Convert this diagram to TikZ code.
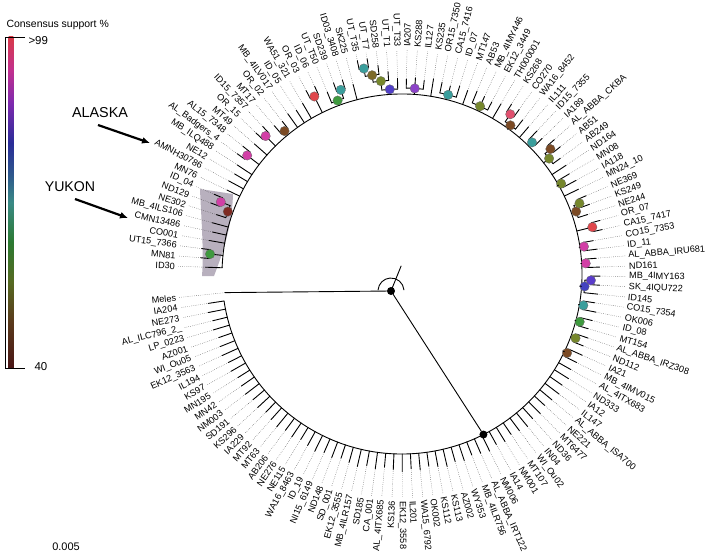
\documentclass[tikz,border=0pt]{standalone}
\usepackage{fontspec}
\setmainfont{Liberation Sans}
\usetikzlibrary{arrows.meta}

\definecolor{cred}{HTML}{E0474C}
\definecolor{cmag}{HTML}{D23FA6}
\definecolor{cpink}{HTML}{E0506E}
\definecolor{cviolet}{HTML}{8C43C8}
\definecolor{cindigo}{HTML}{5140C8}
\definecolor{cblue}{HTML}{4343C0}
\definecolor{cpurpb}{HTML}{5A3CCB}
\definecolor{cteal}{HTML}{3A9E9C}
\definecolor{cgreen}{HTML}{3F9A3F}
\definecolor{colive}{HTML}{76872C}
\definecolor{colbrown}{HTML}{7C6A2A}
\definecolor{cbrown}{HTML}{7B4A24}
\definecolor{cdred}{HTML}{7E2A22}
\definecolor{yukongray}{RGB}{184,176,190}
% colour bar stops, bottom (40) to top (>99)
\definecolor{bar0}{HTML}{4A1616}
\definecolor{bar1}{HTML}{5A3A1C}
\definecolor{bar2}{HTML}{566A22}
\definecolor{bar3}{HTML}{2C7A32}
\definecolor{bar4}{HTML}{3A8A86}
\definecolor{bar5}{HTML}{2E5A8C}
\definecolor{bar6}{HTML}{2A2C98}
\definecolor{bar7}{HTML}{7E2AAE}
\definecolor{bar8}{HTML}{C2308E}
\definecolor{bar9}{HTML}{D83A48}
\pgfdeclareverticalshading{support}{20bp}{color(0bp)=(bar0); color(25bp)=(bar0);
  color(32bp)=(bar1); color(38bp)=(bar2); color(44bp)=(bar3); color(50bp)=(bar4);
  color(54bp)=(bar5); color(59bp)=(bar6); color(65bp)=(bar7); color(70bp)=(bar8);
  color(75bp)=(bar9); color(100bp)=(bar9)}

\tikzset{
  branch/.style={line width=0.9pt, line cap=round},
  leader/.style={line width=0.4pt, dash pattern=on 0.5pt off 1.4pt, black!75},
  lab/.style={inner sep=0pt, font=\fontsize{9.2}{10}\selectfont},
  dot/.style={circle, inner sep=0pt, minimum size=9.5pt, draw=black!60, line width=0.3pt},
  bdot/.style={circle, fill=black, inner sep=0pt, minimum size=8pt},
  bigarrow/.style={line width=2.2pt, -{Latex[length=8pt,width=7pt]}},
}

% clade: first/last child position, radius, parent radius, colour, name
\newcommand\clade[6]{%
  \pgfmathsetmacro\cfa{186+2.627*#1}%
  \pgfmathsetmacro\cfb{186+2.627*#2}%
  \pgfmathsetmacro\cfm{(\cfa+\cfb)/2}%
  \draw[branch] (\cfa:#3bp) arc[start angle=\cfa, end angle=\cfb, radius=#3bp];
  \node[dot, fill=#5] (#6) at (\cfm:#3bp) {};
  \draw[branch] (\cfm:#4bp) -- (#6);
}

\begin{document}
\begin{tikzpicture}[x=1bp, y=1bp]
\useasboundingbox (0,0) rectangle (709,-559);

% Yukon clade highlight
\fill[yukongray] (200,-189) -- (233,-194) .. controls (232,-228) and (222,-255) .. (214,-276)
  -- (202,-276) .. controls (204,-250) and (201,-215) .. cycle;

% legend
\node[anchor=west, font=\fontsize{10.5}{12}\selectfont] (legtitle) at (3,-25) {Consensus support \%};
\shade[shading=support] (5,-37) rectangle (17,-368);
\draw[line width=0.9pt] (25,-37) -- (5,-37) -- (5,-368) -- (25,-368);
\node[anchor=west, font=\fontsize{11.5}{12}\selectfont] (hi) at (25,-41) {>99};
\node[anchor=west, font=\fontsize{11.5}{12}\selectfont] (lo) at (31,-367) {40};
\node[font=\fontsize{11}{12}\selectfont] (scale) at (66,-547) {0.005};

% regions
\node[font=\fontsize{14.4}{16}\selectfont] (alaska) at (100,-113) {ALASKA};
\node[font=\fontsize{14.2}{16}\selectfont] (yukon) at (70,-187) {YUKON};
\coordinate (aktail) at (98,-125);
\coordinate (akhead) at (150,-143);
\coordinate (yktail) at (75,-199);
\coordinate (ykhead) at (128,-218);
\draw[bigarrow] (aktail) -- (akhead);
\draw[bigarrow] (yktail) -- (ykhead);

\begin{scope}[shift={(402,-274)}]
% radius where each tip's branch starts (default: backbone)
\foreach \i/\r in {0/178,56/183,57/183,58/185,59/185,60/184,61/184,62/184,63/184,64/183,
  65/189,66/189,67/184,68/184,69/184,70/184,71/196,72/196,73/185,74/191,75/191,77/183,
  78/183,80/187,81/194,82/194,83/185,84/185,86/184,87/193,88/193,90/185,91/185,92/185,
  94/185,95/185,96/185,98/186,99/186,100/186,101/185,102/194,103/201,104/209,105/209,
  107/194,108/194,109/185,110/198,111/198,115/185,116/185,117/194,118/194,120/195,
  121/195,126/195,127/195,128/185,132/193,133/193}
  {\expandafter\xdef\csname tb\i\endcsname{\r}}

% tips, leaders and labels
\foreach \lab [count=\i from 0] in {Meles, IA204, NE273, AL\_ILC796\_2\_, LP\_0223, AZ001,
  WI\_Ou05, EK12\_3563, IL194, KS97, MN195, MN42, NM003, SD191, KS296, IA229, MT92, MT63,
  AB206, NE276, NE115, WA16\_8463, ID\_19, NI15\_6149, ND148, SD\_001, EK12\_3555,
  MB\_4ILR157, SD185, CA\_001, AL\_4ITX685, KS136, EK12\_3558, IL201, WA15\_6792, OK002,
  KS112, KS113, AZ002, WY353, MB\_4ILR756, AL\_ABBA\_IRT122, NM006, IA14, NM001, MT107,
  WI\_Ou02, IN04, ND36, MT6477, NE221, AL\_ABBA\_ISA700, IL147, IA12, ND333, AL\_4ITX683,
  MB\_4IMV015, IA21, ND112, AL\_ABBA\_IRZ308, MT154, ID\_08, OK006, CO15\_7354, ID145,
  SK\_4IQU722, MB\_4IMY163, ND161, AL\_ABBA\_IRU681, ID\_11, CO15\_7353, CA15\_7417, OR\_07,
  NE244, KS249, NE369, MN24\_10, IA118, MN08, ND164, AB249, AB51, AL\_ABBA\_CKBA, IA189,
  ID15\_7355, IL111, WA16\_8452, CO270, KS268, TH000001, EK12\_3449, MB\_4IMY446, AB53,
  MT147, ID\_07, CA15\_7416, OR15\_7350, KS235, IL127, KS288, IA207, UT\_T33, UT\_T1, SD258,
  UT\_T7, UT\_T35, SK225, ID03\_3408, SD239, UT\_T50, ID\_06, OR\_03, WA51\_321, ID\_05,
  MB\_4ILV017, OR\_02, MT17, ID15\_7357, OR\_15, MT49, AL15\_7348, AL\_Badgers\_4, MB\_ILQ488,
  NE12, AMNH30786, MN76, ID\_04, ND129, NE302, MB\_4ILS106, CMN13486, CO001, UT15\_7366,
  MN81, ID30}{
  \pgfmathsetmacro\ang{186+2.627*\i}
  \ifcsname tb\i\endcsname \edef\rb{\csname tb\i\endcsname}\else \def\rb{180}\fi
  \pgfmathsetmacro\rt{max(194+mod(\i*7,5)*0.9,\rb+9)}
  \ifnum\i=0 \def\rt{178}\fi
  \coordinate (tb\i) at (\ang:\rb bp);
  \coordinate (tt\i) at (\ang:\rt bp);
  \ifnum\i>0 \draw[branch] (tb\i) -- (tt\i); \fi
  \draw[leader] (tt\i) -- (\ang:224bp);
  \pgfmathsetmacro\nang{mod(\ang,360)}
  \pgfmathtruncatemacro\isleft{(\nang>90)&&(\nang<270)}
  \ifnum\isleft=1
    \node[lab, anchor=east, rotate=\ang-180] (l\i) at (\ang:227bp) {\lab};
  \else
    \node[lab, anchor=west, rotate=\ang] (l\i) at (\ang:227bp) {\lab};
  \fi
}

% backbone of the ingroup
\draw[branch] (188.627:180bp) arc[start angle=188.627, end angle=538.018, radius=180bp];

% supported clades
\clade{56}{57}{183}{180}{cbrown}{n56}
\clade{58}{59}{185}{180}{colive}{n58}
\clade{60}{61}{184}{180}{cgreen}{n60}
\clade{62}{63}{184}{180}{cteal}{n62}
\clade{64}{65.5}{183}{180}{cblue}{n64}
\clade{65}{66}{189}{183}{cpurpb}{n65}
\clade{67}{68}{184}{180}{cmag}{n67}
\clade{69}{70}{184}{180}{cmag}{n69}
\clade{71}{72}{196}{180}{cred}{n71}
\clade{73}{74.5}{185}{180}{cbrown}{n73}
\clade{74}{75}{191}{185}{colive}{n74}
\clade{77}{78}{183}{180}{colive}{n77}
\clade{80}{81.5}{187}{180}{colive}{n80}
\clade{81}{82}{194}{187}{cbrown}{n81}
\clade{83}{84}{185}{180}{cteal}{n83}
\clade{86}{87.5}{184}{180}{cbrown}{n86}
\clade{87}{88}{193}{184}{cpink}{n87}
\clade{90}{92}{185}{180}{colive}{n90}
\clade{94}{96}{185}{180}{cteal}{n94}
\clade{98}{100}{186}{180}{cviolet}{n98}
\clade{101}{102.875}{185}{180}{cindigo}{n101}
\clade{102}{103.75}{194}{185}{colive}{n102}
\clade{103}{104.5}{201}{194}{colbrown}{n103}
\clade{104}{105}{209}{201}{cteal}{n104}
\clade{107.5}{109}{185}{180}{cgreen}{n109}
\clade{107}{108}{194}{185}{cteal}{n107}
\clade{110}{111}{198}{180}{cred}{n110}
\clade{115}{116}{185}{180}{cbrown}{n115}
\clade{117}{118}{194}{180}{cmag}{n117}
\clade{120}{121}{195}{180}{cmag}{n120}
\clade{126.5}{128}{185}{180}{cdred}{n128}
\clade{126}{127}{195}{185}{cmag}{n126}
\clade{132}{133}{193}{180}{cgreen}{n132}

% root and ingroup node
\node[bdot] (ingroup) at (296.9:180bp) {};
\node[bdot] (root) at (-11,-17) {};
\draw[branch] (root) -- (ingroup);
\draw[branch] (root) -- (tb0);
\draw[branch] ([shift={(5:13bp)}]root.center) arc[start angle=5, end angle=175, radius=13bp];
\draw[branch] (root.center) -- ++(68:27bp);
\end{scope}
\end{tikzpicture}
\end{document}
